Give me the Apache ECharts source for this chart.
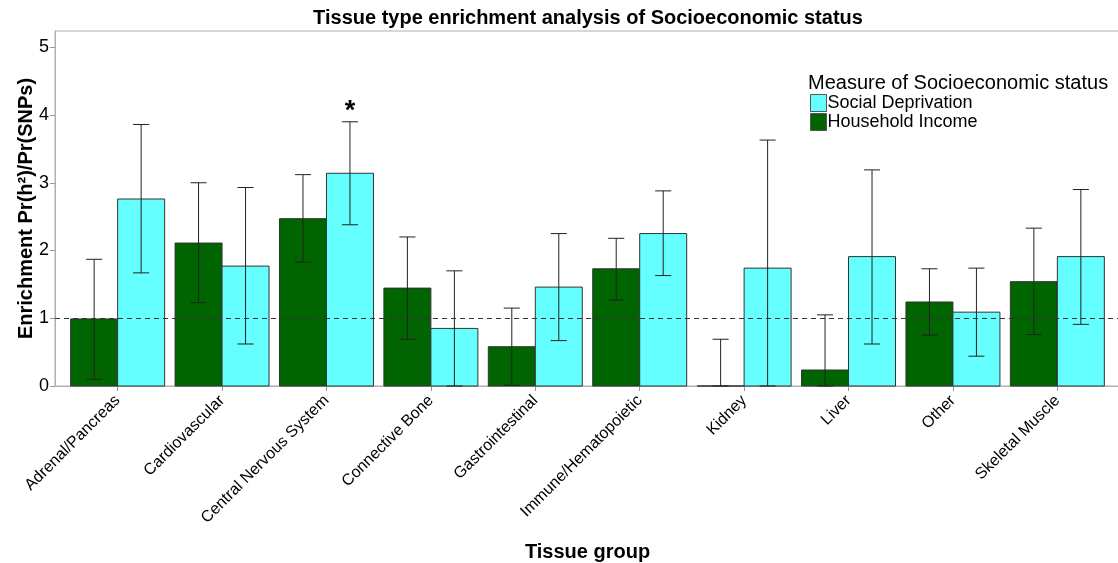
<!DOCTYPE html>
<html><head><meta charset="utf-8">
<script src="https://cdn.jsdelivr.net/npm/echarts@6/dist/echarts.min.js"></script>
<style>html,body{margin:0;padding:0;background:#fff;overflow:hidden}#c{width:1118px;height:563px}</style>
</head><body><div id="c"></div>
<script>
const categories = ['Adrenal/Pancreas','Cardiovascular','Central Nervous System','Connective Bone','Gastrointestinal','Immune/Hematopoietic','Kidney','Liver','Other','Skeletal Muscle'];
const incomeValues = [0.99, 2.11, 2.47, 1.445, 0.58, 1.73, 0, 0.236, 1.24, 1.54];
const incomeLower  = [0.10, 1.23, 1.83, 0.69, 0.01, 1.27, 0, 0, 0.75, 0.76];
const incomeUpper  = [1.87, 3.00, 3.12, 2.20, 1.15, 2.18, 0.69, 1.05, 1.73, 2.33];
const deprivationValues = [2.76, 1.77, 3.14, 0.85, 1.46, 2.25, 1.74, 1.91, 1.09, 1.91];
const deprivationLower  = [1.67, 0.62, 2.38, 0, 0.67, 1.63, 0, 0.62, 0.44, 0.91];
const deprivationUpper  = [3.86, 2.93, 3.90, 1.70, 2.25, 2.88, 3.63, 3.19, 1.74, 2.90];
const deprivationSignificance = ['', '', '*', '', '', '', '', '', '', ''];
const incomeSignificance = ['', '', '', '', '', '', '', '', '', ''];
const yTicks = [0, 1, 2, 3, 4, 5];
const categoryPositions = categories.map((c, i) => i + 1);
const referenceLine = 1;

const FONT = '"Liberation Sans", Arial, sans-serif';
const INCOME_COLOR = '#006400';
const DEPRIVATION_COLOR = '#66FFFF';

function makeSeries(name, side, vals, lo, hi, sig, color, extra) {
  return Object.assign({
    type: 'custom',
    name: name,
    coordinateSystem: 'cartesian2d',
    itemStyle: { color: color, borderColor: '#555', borderWidth: 1 },
    data: vals.map((v, i) => [categoryPositions[i], v, lo[i], hi[i]]),
    encode: { x: 0, y: [1, 2, 3] },
    z: side < 0 ? 2 : 3,
    renderItem: function (params, api) {
      const x = api.value(0), v = api.value(1), l = api.value(2), h = api.value(3);
      const unit = api.size([1, 0])[0];
      const bw = unit * 0.45;
      const base = api.coord([x, 0]);
      const cx = base[0] + side * bw / 2;
      const top = api.coord([x, v])[1];
      const yl = api.coord([x, l])[1];
      const yh = api.coord([x, h])[1];
      const cap = unit * 0.077;
      const children = [
        { type: 'rect', shape: { x: cx - bw / 2, y: top, width: bw, height: base[1] - top },
          style: { fill: color, stroke: '#333', lineWidth: 1 } },
        { type: 'line', shape: { x1: cx, y1: yl, x2: cx, y2: yh }, style: { stroke: '#222', lineWidth: 1 } },
        { type: 'line', shape: { x1: cx - cap, y1: yh, x2: cx + cap, y2: yh }, style: { stroke: '#222', lineWidth: 1 } },
        { type: 'line', shape: { x1: cx - cap, y1: yl, x2: cx + cap, y2: yl }, style: { stroke: '#222', lineWidth: 1 } }
      ];
      const s = sig[params.dataIndex];
      if (s) {
        children.push({ type: 'text', x: cx, y: yh + 3,
          style: { text: s, fill: '#000', font: 'bold 27px ' + FONT, align: 'center', verticalAlign: 'bottom' } });
      }
      return { type: 'group', children: children };
    }
  }, extra || {});
}

const chart = echarts.init(document.getElementById('c'), null, { renderer: 'canvas' });
chart.setOption({
  animation: false,
  backgroundColor: '#fff',
  title: [
    { text: 'Tissue type enrichment analysis of Socioeconomic status', left: 588, top: 8, textAlign: 'center', padding: 0,
      textStyle: { fontFamily: FONT, fontSize: 20, fontWeight: 'bold', color: '#000' } },
    { text: 'Measure of Socioeconomic status', left: 808, top: 73, padding: 0,
      textStyle: { fontFamily: FONT, fontSize: 20, fontWeight: 'normal', color: '#000' } }
  ],
  legend: {
    data: ['Social Deprivation', 'Household Income'],
    orient: 'vertical', left: 810, top: 94, itemWidth: 16, itemHeight: 17, itemGap: 1,
    icon: 'rect', padding: 0,
    textStyle: { fontFamily: FONT, fontSize: 18, color: '#000', padding: [0, 0, 0, -4] },
    itemStyle: { borderColor: '#555', borderWidth: 1 }
  },
  grid: { left: 55, top: 31, width: 1065, height: 355, show: true, borderColor: '#b0b0b0', borderWidth: 1,
    containLabel: false, outerBoundsMode: 'none' },
  xAxis: {
    type: 'value', min: 0.4, max: 10.6,
    name: 'Tissue group', nameLocation: 'middle', nameGap: 156,
    nameTextStyle: { fontFamily: FONT, fontSize: 20, fontWeight: 'bold', color: '#000' },
    axisLine: { show: true, lineStyle: { color: '#b0b0b0', width: 1 } },
    axisTick: { show: true, customValues: categoryPositions, length: 5, lineStyle: { color: '#999' } },
    axisLabel: { customValues: categoryPositions, rotate: 45, fontFamily: FONT, fontSize: 16, color: '#000', margin: 12,
      formatter: v => categories[Math.round(v) - 1] },
    splitLine: { show: false }
  },
  yAxis: {
    type: 'value', min: 0, max: 5.24,
    name: 'Enrichment Pr(h²)/Pr(SNPs)', nameLocation: 'middle', nameGap: 19, nameMoveOverlap: false,
    nameTextStyle: { fontFamily: FONT, fontSize: 20, fontWeight: 'bold', color: '#000' },
    axisLine: { show: true, lineStyle: { color: '#b0b0b0', width: 1 } },
    axisTick: { show: true, customValues: yTicks, length: 5, lineStyle: { color: '#999' } },
    axisLabel: { customValues: yTicks, fontFamily: FONT, fontSize: 18, color: '#000', margin: 6 },
    splitLine: { show: false }
  },
  series: [
    makeSeries('Household Income', -1, incomeValues, incomeLower, incomeUpper, incomeSignificance, INCOME_COLOR),
    makeSeries('Social Deprivation', 1, deprivationValues, deprivationLower, deprivationUpper, deprivationSignificance, DEPRIVATION_COLOR, {
      markLine: {
        silent: true, symbol: 'none', label: { show: false },
        lineStyle: { type: [5, 4], color: '#333', width: 1 },
        data: [{ yAxis: referenceLine }]
      }
    })
  ]
});
</script></body></html>
